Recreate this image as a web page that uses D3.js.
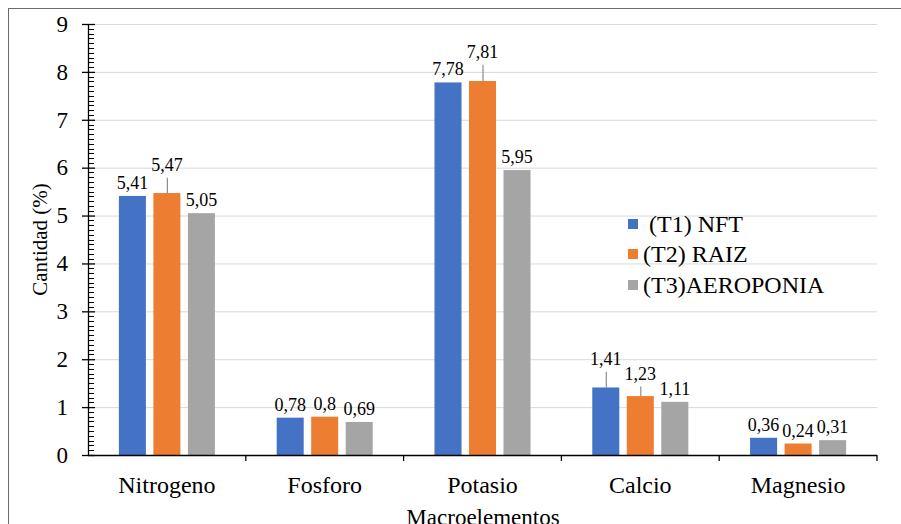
<!DOCTYPE html>
<html>
<head>
<meta charset="utf-8">
<script src="https://cdn.jsdelivr.net/npm/d3@7"></script>
<style>
  body { margin: 0; background: #fff; }
  svg { display: block; }
  text { fill: #000; }
</style>
</head>
<body>
<svg id="chart" width="901" height="524"></svg>
<script>
const categories = ["Nitrogeno", "Fosforo", "Potasio", "Calcio", "Magnesio"];
const seriesNames = [" (T1) NFT", "(T2) RAIZ", "(T3)AEROPONIA"];
const seriesColors = ["#4472C4", "#ED7D31", "#A5A5A5"];
const t1Values = [5.41, 0.78, 7.78, 1.41, 0.36];
const t2Values = [5.47, 0.80, 7.81, 1.23, 0.24];
const t3Values = [5.05, 0.69, 5.95, 1.11, 0.31];
const t1Errors = [0, 0, 0, 0.33, 0];
const t2Errors = [0.32, 0, 0.34, 0.20, 0];
const t3Errors = [0, 0, 0, 0, 0];
const yTicks = [0, 1, 2, 3, 4, 5, 6, 7, 8, 9];
const yTitle = "Cantidad (%)";
const xTitle = "Macroelementos";

const seriesValues = [t1Values, t2Values, t3Values];
const seriesErrors = [t1Errors, t2Errors, t3Errors];
const fmt = v => String(v).replace(".", ",");

(function draw() {
const svg = d3.select("#chart");
const FONT = "'Liberation Serif', 'Times New Roman', Tinos, serif";

svg.append("rect").attr("x", 8.5).attr("y", 8.5).attr("width", 1000).attr("height", 1000)
  .attr("fill", "none").attr("stroke", "#6b6b6b").attr("stroke-width", 1);

const mLeft = 88, mRight = 877, mTop = 24, mBottom = 455;
const x = d3.scaleBand().domain(categories).range([mLeft, mRight]).paddingInner(0).paddingOuter(0);
const xs = d3.scaleBand().domain(d3.range(seriesNames.length)).range([0, x.bandwidth()])
  .paddingInner(0.217).paddingOuter(0.895);
const y = d3.scaleLinear().domain([0, 9]).range([mBottom, mTop]);

svg.append("g").selectAll("line").data(yTicks.filter(t => t > 0)).join("line")
  .attr("x1", mLeft).attr("x2", mRight).attr("y1", d => y(d) + 0.5).attr("y2", d => y(d) + 0.5)
  .attr("stroke", "#d9d9d9").attr("stroke-width", 1);

const bars = [];
categories.forEach((c, i) => {
  seriesValues.forEach((vals, s) => {
    bars.push({ c, s, v: vals[i], e: seriesErrors[s][i] });
  });
});
svg.append("g").selectAll("rect").data(bars).join("rect")
  .attr("x", d => x(d.c) + xs(d.s))
  .attr("width", xs.bandwidth())
  .attr("y", d => y(d.v))
  .attr("height", d => y(0) - y(d.v))
  .attr("fill", d => seriesColors[d.s]);

svg.append("g").selectAll("line").data(bars.filter(d => d.e > 0)).join("line")
  .attr("x1", d => x(d.c) + xs(d.s) + xs.bandwidth() / 2 + 0.5)
  .attr("x2", d => x(d.c) + xs(d.s) + xs.bandwidth() / 2 + 0.5)
  .attr("y1", d => y(d.v)).attr("y2", d => y(d.v + d.e))
  .attr("stroke", "#8c8c8c").attr("stroke-width", 1.2);

svg.append("g").selectAll("text").data(bars).join("text")
  .attr("x", d => x(d.c) + xs(d.s) + xs.bandwidth() / 2)
  .attr("y", d => y(d.v + d.e) - 7)
  .attr("text-anchor", "middle")
  .style("font-family", FONT).style("font-size", "18px")
  .text(d => fmt(d.v));

const yAxisG = svg.append("g");
yAxisG.append("line").attr("x1", mLeft + 0.5).attr("x2", mLeft + 0.5).attr("y1", y(9)).attr("y2", y(0))
  .attr("stroke", "#000").attr("stroke-width", 1.3);
const minor = d3.range(0, 90).map(k => k / 10).filter(v => Math.abs(v - Math.round(v)) > 1e-6);
yAxisG.selectAll("line.minor").data(minor).join("line").attr("class", "minor")
  .attr("x1", mLeft).attr("x2", mLeft + 6).attr("y1", d => Math.round(y(d)) + 0.5).attr("y2", d => Math.round(y(d)) + 0.5)
  .attr("stroke", "#000").attr("stroke-width", 1);
yAxisG.selectAll("line.major").data(yTicks).join("line").attr("class", "major")
  .attr("x1", mLeft - 6).attr("x2", mLeft + 7).attr("y1", d => y(d) + 0.5).attr("y2", d => y(d) + 0.5)
  .attr("stroke", "#000").attr("stroke-width", 1.3);
yAxisG.selectAll("text").data(yTicks).join("text")
  .attr("x", mLeft - 20).attr("y", d => y(d)).attr("dy", "0.34em")
  .attr("text-anchor", "end")
  .style("font-family", FONT).style("font-size", "23px")
  .text(d => d);

const xAxisG = svg.append("g");
xAxisG.append("line").attr("x1", mLeft).attr("x2", mRight).attr("y1", mBottom + 0.5).attr("y2", mBottom + 0.5)
  .attr("stroke", "#000").attr("stroke-width", 1.3);
const boundaries = categories.slice(1).map(c => x(c)).concat([mRight]);
xAxisG.selectAll("line.tick").data(boundaries).join("line").attr("class", "tick")
  .attr("x1", d => d).attr("x2", d => d).attr("y1", mBottom).attr("y2", mBottom + 6)
  .attr("stroke", "#000").attr("stroke-width", 1.3);
xAxisG.selectAll("text").data(categories).join("text")
  .attr("x", d => x(d) + x.bandwidth() / 2).attr("y", mBottom + 38)
  .attr("text-anchor", "middle")
  .style("font-family", FONT).style("font-size", "24px")
  .text(d => d);

svg.append("text").attr("transform", `translate(47, ${(y(0) + y(9)) / 2}) rotate(-90)`)
  .attr("text-anchor", "middle")
  .style("font-family", FONT).style("font-size", "21px").text(yTitle);
svg.append("text").attr("x", 483).attr("y", 525)
  .attr("text-anchor", "middle")
  .style("font-family", FONT).style("font-size", "23px").text(xTitle);

const legendY = [224, 254, 285];
const lg = svg.append("g");
lg.selectAll("rect").data(seriesNames).join("rect")
  .attr("x", 628).attr("y", (d, i) => legendY[i] - 5).attr("width", 10).attr("height", 10)
  .attr("fill", (d, i) => seriesColors[i]);
lg.selectAll("text").data(seriesNames).join("text")
  .attr("x", 643).attr("y", (d, i) => legendY[i]).attr("dy", "0.35em")
  .style("font-family", FONT).style("font-size", "24px").style("white-space", "pre")
  .text(d => d);
})();
</script>
</body>
</html>
